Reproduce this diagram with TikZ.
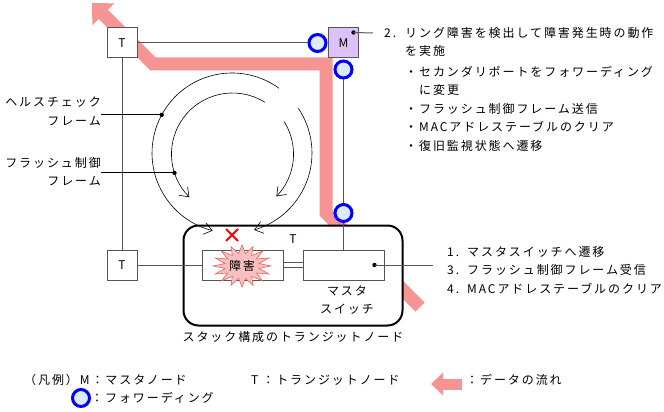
\documentclass[tikz,border=0pt]{standalone}
\usepackage{fontspec}
\setmainfont{Noto Sans CJK JP}[LetterSpace=16]
\usepackage{xcolor}
\usetikzlibrary{arrows.meta}

\definecolor{flowpink}{RGB}{246,148,148}
\definecolor{starpink}{RGB}{249,190,190}
\definecolor{starred}{RGB}{232,100,100}
\definecolor{fwfill}{RGB}{221,234,250}
\definecolor{mfill}{RGB}{220,194,248}
\definecolor{linegray}{RGB}{85,85,85}

\begin{document}
\begin{tikzpicture}[x=1pt,y=1pt,font=\fontsize{12}{18.5}\selectfont,
	tbox/.style={draw=linegray,line width=1pt,fill=white,minimum size=30pt,inner sep=0pt},
	mbox/.style={tbox,fill=mfill},
	fw/.style={circle,draw=blue,line width=3pt,fill=fwfill,minimum size=17pt,inner sep=0pt},
	stack/.style={draw,line width=2pt,rounded corners=15pt,fill=white,minimum width=219pt,minimum height=100pt},
	swbox/.style={draw=linegray,line width=1pt,fill=white,minimum width=81pt,minimum height=30pt,inner sep=0pt},
	conn/.style={draw=linegray,line width=1pt},
	flow/.style={draw=flowpink,line width=13pt,-{Triangle[length=16pt,width=30pt]}},
	flowlg/.style={draw=flowpink,line width=11pt,-{Triangle[length=12pt,width=22pt]}},
	ring/.style={line width=0.6pt,-{Straight Barb[length=8pt,width=12pt]}},
	note/.style={align=left,inner sep=0pt,anchor=north west},
	lbl/.style={align=right,inner sep=0pt,anchor=east}]
	\useasboundingbox (0,0) rectangle (664,-412);

	% data flow
	\draw[flow] (420,-307) -- (326,-213) -- (326,-64) -- (153,-64) -- (92,-3);

	\node[tbox] (t1) at (122,-43) {T};
	\node[mbox] (mnode) at (343.5,-43) {M};
	\node[tbox] (t2) at (122,-265) {T};
	\node[fw] (fwa) at (317.5,-43) {};
	\node[fw] (fwb) at (343.5,-69.5) {};
	\node[fw] (fwc) at (343.5,-213) {};

	\node[stack] (stack) at (293,-275.5) {};
	\node[swbox] (fault) at (242.5,-265) {};
	\node[swbox] (master) at (343.5,-265) {};
	\node (tlbl) at (293,-239) {T};
	\node[align=center] (mslbl) at (347,-300) {マスタ\\スイッチ};
	\node (stlbl) at (293,-337) {スタック構成のトランジットノード};

	\draw[conn] (t1) -- (fwa);
	\draw[conn] (fwa) -- (mnode);
	\draw[conn] (t1) -- (t2);
	\draw[conn] (t2) -- (fault);
	\draw[conn] (fwb) -- (fwc);
	\draw[conn] (fwc) -- (master);
	\draw[linegray,line width=1pt,double=white,double distance=3.5pt] (fault) -- (master);

	% fault mark
	\coordinate (fc) at (242,-266);
	\filldraw[fill=starpink,draw=starred,line width=0.6pt] plot[domain=0:31,samples=32]
		({242+29*(0.8+0.2*cos(180*\x))*cos(\x*11.25)},{-266+21*(0.8+0.2*cos(180*\x))*sin(\x*11.25)}) -- cycle;
	\node (faulttxt) at (fc) {障害};
	\coordinate (xm) at (232,-235);
	\draw[red,line width=2pt] (xm) +(-6,6) -- +(6,-6) (xm) +(-6,-6) -- +(6,6);

	% health check / flush frames
	\coordinate (oc) at (232,-153);
	\coordinate (ic) at (232.5,-154);
	\draw[ring] (oc) ++(54:80pt) arc[start angle=54,end angle=256,radius=80pt];
	\draw[ring] (oc) ++(34:80pt) arc[start angle=34,end angle=-74,radius=80pt];
	\draw[ring] (ic) ++(58:61pt) arc[start angle=58,end angle=225,radius=61pt];
	\draw[ring] (ic) ++(32:61pt) arc[start angle=32,end angle=-44,radius=61pt];
	\path (oc) ++(151.5:80pt) coordinate (hcdot);
	\path (ic) ++(198:61pt) coordinate (fldot);
	\fill (hcdot) circle (2.2pt);
	\fill (fldot) circle (2.2pt);

	\node[lbl] (hclbl) at (101,-111.5) {ヘルスチェック\\フレーム};
	\node[lbl] (fllbl) at (101,-171.5) {フラッシュ制御\\フレーム};
	\draw[line width=0.8pt] (hclbl.east |- hcdot) -- (hcdot);
	\draw[line width=0.8pt] (fllbl.east |- fldot) -- (fldot);

	% notes
	\path (mnode.north east) ++(-5.5,-5) coordinate (mdot);
	\coordinate (mlead) at (373,-33);
	\fill (mdot) circle (2.2pt);
	\draw[conn] (mdot) -- (mlead);
	\node[note] (note2) at (384,-27) {\makebox[21pt][l]{2.}リング障害を検出して障害発生時の動作\\
		\hspace*{21pt}を実施\\[2pt]
		\hspace*{21pt}・セカンダリポートをフォワーディング\\
		\hspace*{35pt}に変更\\
		\hspace*{21pt}・フラッシュ制御フレーム送信\\
		\hspace*{21pt}・MACアドレステーブルのクリア\\
		\hspace*{21pt}・復旧監視状態へ遷移};

	\path (master.east) ++(-10,0) coordinate (msdot);
	\coordinate (mslead) at (433,-265);
	\fill (msdot) circle (2.2pt);
	\draw[conn] (msdot) -- (mslead);
	\node[note] (note1) at (447,-246) {\makebox[20pt][l]{1.}マスタスイッチへ遷移\\
		\makebox[20pt][l]{3.}フラッシュ制御フレーム受信\\
		\makebox[20pt][l]{4.}MACアドレステーブルのクリア};

	% legend
	\node[anchor=west,inner sep=0pt] (lgm) at (24,-380) {（凡例）M：マスタノード};
	\node[anchor=west,inner sep=0pt] (lgt) at (251,-380) {T\hspace{4pt}：トランジットノード};
	\coordinate (lgtail) at (462,-384);
	\coordinate (lgtip) at (431,-384);
	\draw[flowlg] (lgtail) -- (lgtip);
	\node[anchor=west,inner sep=0pt] (lgflow) at (466,-380) {：データの流れ};
	\node[fw] (lgfw) at (81,-398) {};
	\node[anchor=west,inner sep=0pt] (lgfwt) at (91,-398) {：フォワーディング};
\end{tikzpicture}
\end{document}
